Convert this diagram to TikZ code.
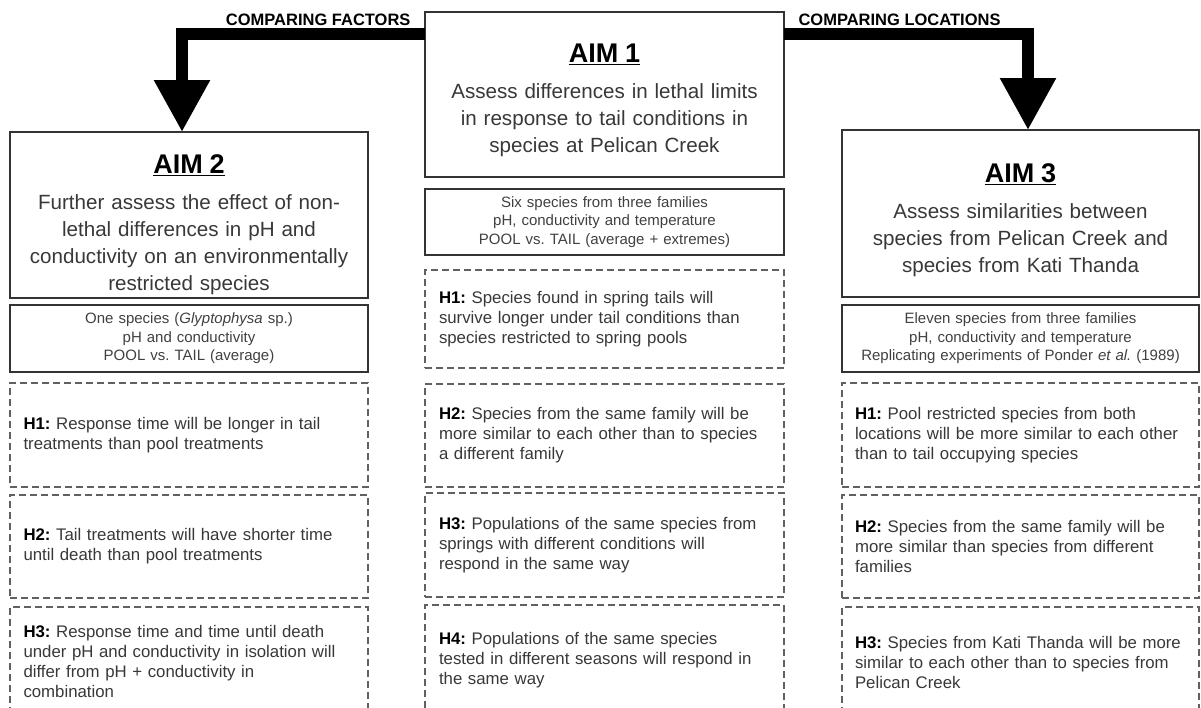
\documentclass[tikz,border=0pt]{standalone}
\usepackage{fontspec}
\setmainfont{Liberation Sans}
\usetikzlibrary{arrows.meta,positioning}
\newcommand{\aimhead}[2][20pt]{\rule{0pt}{#1}{\fontsize{27}{30}\selectfont\bfseries\color{black}\underline{#2}}\\[9pt]}
\newcommand{\hyp}[1]{{\bfseries\color{black}#1:}}
\begin{document}
\frenchspacing
\begin{tikzpicture}[x=1pt,y=-1pt,
  aimbox/.style={draw=black!80,line width=1.8pt,align=center,inner sep=0pt,outer sep=0pt,font=\fontsize{20.6}{27}\selectfont,text=black!78},
  infobox/.style={draw=black!80,line width=1.6pt,align=center,inner sep=0pt,outer sep=0pt,font=\fontsize{15}{18.5}\selectfont,text=black!75},
  hypbox/.style={draw=black!62,dash pattern=on 7pt off 4pt,line width=1.6pt,align=left,inner xsep=14pt,inner ysep=0pt,outer sep=0pt,font=\fontsize{16.8}{20}\selectfont,text=black!78},
  bigarrow/.style={line width=12pt,-{Triangle[width=53pt,length=52pt]}},
  flowlbl/.style={font=\fontsize{16.5}{18}\selectfont\bfseries}]
 \useasboundingbox (0,0) rectangle (1201,707);
 % aims
 \node[aimbox,text width=359pt,minimum height=165pt] (aim1) at (604.5,94.5) {\aimhead[31pt]{AIM 1}Assess differences in lethal limits\\ in response to tail conditions in\\ species at Pelican Creek};
 \node[aimbox,text width=358pt,minimum height=166pt] (aim2) at (189,215) {\aimhead[39pt]{AIM 2}Further assess the effect of non-\\ lethal differences in pH and\\ conductivity on an environmentally\\ restricted species};
 \node[aimbox,text width=357pt,minimum height=167pt] (aim3) at (1020.5,213.5) {\aimhead[33pt]{AIM 3}Assess similarities between\\ species from Pelican Creek and\\ species from Kati Thanda};
 % study details
 \node[infobox,text width=359pt,minimum height=66pt,below=12pt of aim1] (info1) {Six species from three families\\ pH, conductivity and temperature\\ POOL vs. TAIL (average + extremes)};
 \node[infobox,text width=358pt,minimum height=67pt,below=7pt of aim2] (info2) {One species (\textit{Glyptophysa} sp.)\\ pH and conductivity\\ POOL vs. TAIL (average)};
 \node[infobox,text width=357pt,minimum height=67pt,below=8pt of aim3] (info3) {Eleven species from three families\\ pH, conductivity and temperature\\ Replicating experiments of Ponder \textit{et al.} (1989)};
 % hypotheses, aim 1
 \node[hypbox,text width=331pt,minimum height=98pt,below=15pt of info1] (hypc1) {\hyp{H1} Species found in spring tails will\\ survive longer under tail conditions than\\ species restricted to spring pools};
 \node[hypbox,text width=331pt,minimum height=103pt,below=16pt of hypc1] (hypc2) {\hyp{H2} Species from the same family will be\\ more similar to each other than to species\\ a different family};
 \node[hypbox,text width=331pt,minimum height=104pt,below=6pt of hypc2] (hypc3) {\hyp{H3} Populations of the same species from\\ springs with different conditions will\\ respond in the same way};
 \node[hypbox,text width=331pt,minimum height=110pt,below=8pt of hypc3] (hypc4) {\hyp{H4} Populations of the same species\\ tested in different seasons will respond in\\ the same way};
 % hypotheses, aim 2
 \node[hypbox,text width=331pt,inner xsep=13.5pt,minimum height=104pt,below=11pt of info2] (hypl1) {\hyp{H1} Response time will be longer in tail\\ treatments than pool treatments};
 \node[hypbox,text width=331pt,inner xsep=13.5pt,minimum height=103pt,below=8pt of hypl1] (hypl2) {\hyp{H2} Tail treatments will have shorter time\\ until death than pool treatments};
 \node[hypbox,text width=331pt,inner xsep=13.5pt,minimum height=108pt,below=9pt of hypl2] (hypl3) {\hyp{H3} Response time and time until death\\ under pH and conductivity in isolation will\\ differ from pH + conductivity in\\ combination};
 % hypotheses, aim 3
 \node[hypbox,text width=331pt,inner xsep=13pt,minimum height=104pt,below=11pt of info3] (hypr1) {\hyp{H1} Pool restricted species from both\\ locations will be more similar to each other\\ than to tail occupying species};
 \node[hypbox,text width=331pt,inner xsep=13pt,minimum height=103pt,below=8pt of hypr1] (hypr2) {\hyp{H2} Species from the same family will be\\ more similar than species from different\\ families};
 \node[hypbox,text width=331pt,inner xsep=13pt,minimum height=110pt,below=9pt of hypr2] (hypr3) {\hyp{H3} Species from Kati Thanda will be more\\ similar to each other than to species from\\ Pelican Creek};
 % arrows
 \draw[bigarrow] ([yshift=-22pt]aim1.north west) -| ([xshift=-7pt]aim2.north);
 \draw[bigarrow] ([yshift=-22pt]aim1.north east) -| ([xshift=7.5pt]aim3.north);
 \node[flowlbl,anchor=east] (factlbl) at ([xshift=-11pt,yshift=-8pt]aim1.north west) {COMPARING FACTORS};
 \node[flowlbl,anchor=west] (loclbl) at ([xshift=11pt,yshift=-8pt]aim1.north east) {COMPARING LOCATIONS};
\end{tikzpicture}
\end{document}
